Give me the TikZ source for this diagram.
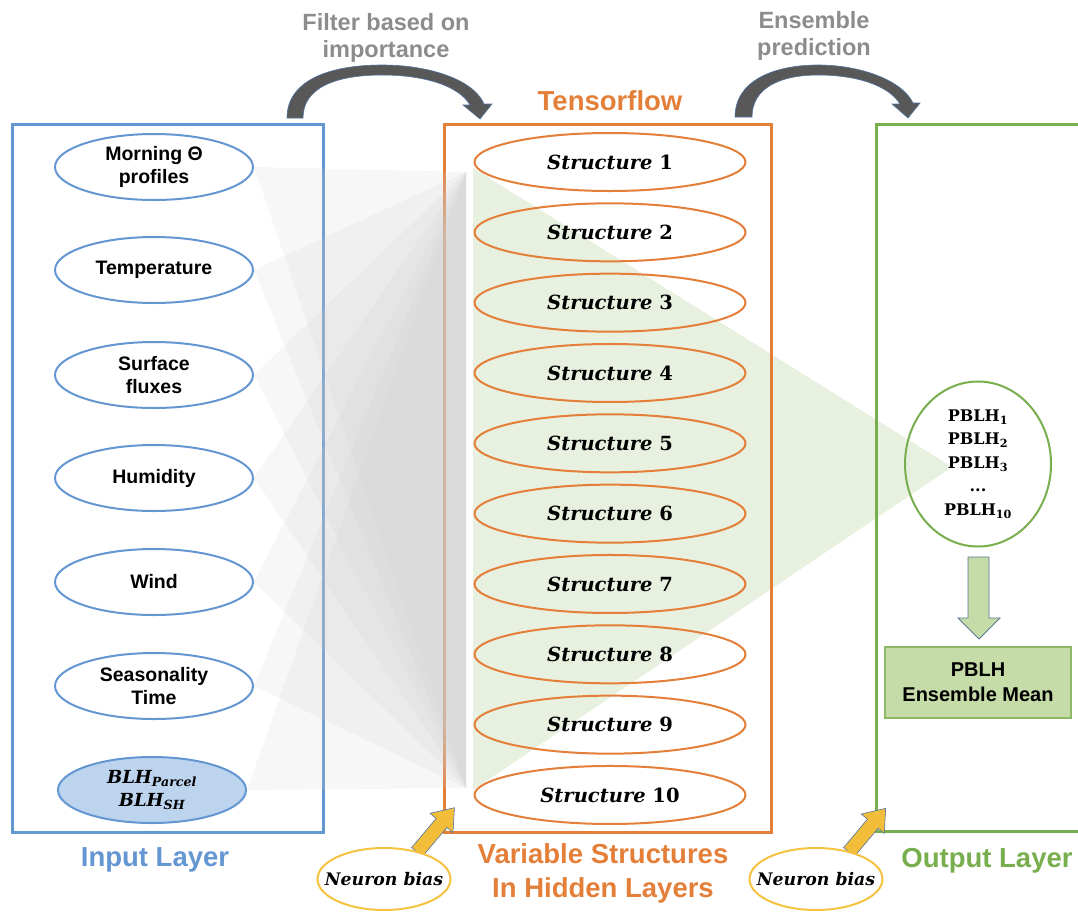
\documentclass[tikz,border=0pt]{standalone}
\usepackage{fontspec}
\setmainfont{Liberation Sans}
\newfontfamily\mser{DejaVu Serif}
\usetikzlibrary{shapes.geometric}
\definecolor{inblue}{RGB}{100,150,210}
\definecolor{blhfill}{RGB}{189,212,238}
\definecolor{orng}{RGB}{228,127,58}
\definecolor{grn}{RGB}{120,174,78}
\definecolor{grtri}{RGB}{232,240,224}
\definecolor{gtri}{RGB}{205,205,205}
\definecolor{meanfill}{RGB}{197,219,168}
\definecolor{meanedge}{RGB}{141,184,102}
\definecolor{yel}{RGB}{245,194,66}
\definecolor{yelfill}{RGB}{242,190,58}
\definecolor{arredge}{RGB}{80,115,160}
\definecolor{darr}{RGB}{88,88,88}
\definecolor{lblgray}{RGB}{140,140,140}
\pgfdeclarelayer{bg}
\pgfsetlayers{bg,main}
\tikzset{
  inell/.style={ellipse, draw=inblue, line width=2pt, fill=white, minimum width=198pt, minimum height=66pt, inner sep=0pt, align=center, font=\fontsize{19.5}{23}\selectfont\bfseries},
  stell/.style={ellipse, draw=orng, line width=2pt, minimum width=271pt, minimum height=58pt, inner sep=0pt, font=\fontsize{19.5}{24}\selectfont\mser\bfseries\itshape},
  nbell/.style={ellipse, draw=yel, line width=2pt, fill=white, minimum width=133pt, minimum height=62pt, inner xsep=-14pt, inner ysep=0pt, font=\fontsize{17.3}{20}\selectfont\mser\bfseries\itshape},
  layerlbl/.style={font=\fontsize{27.5}{34}\selectfont\bfseries, align=center, inner sep=0pt},
  toplbl/.style={font=\fontsize{23.5}{27}\selectfont\bfseries, text=lblgray, align=center, inner sep=0pt},
  graytri/.style={fill=gtri, fill opacity=0.17},
  curvarr/.style={fill=darr, draw=arredge, line width=0.6pt},
  yelarr/.style={fill=yelfill, draw=arredge, line width=0.6pt},
  boxframe/.style={rectangle, line width=3pt, inner sep=0pt}
}
\begin{document}
\begin{tikzpicture}[x=1pt,y=-1pt]
\useasboundingbox (0,0) rectangle (1078,911);
\clip (0,0) rectangle (1078,911);

% input ellipses
\node[inell] (in1) at (154,167) {Morning Θ\\profiles};
\node[inell] (in2) at (154,270) {Temperature};
\node[inell] (in3) at (154,375) {Surface\\fluxes};
\node[inell] (in4) at (154,478) {Humidity};
\node[inell] (in5) at (154,582) {Wind};
\node[inell] (in6) at (154,686) {Seasonality\\Time};
\node[inell, fill=blhfill, minimum width=188pt, font=\fontsize{18}{23}\selectfont\mser\bfseries\itshape] (in7) at (152,790) {BLH\textsubscript{Parcel}\\BLH\textsubscript{SH}};

% hidden structures
\foreach \i in {1,...,10}
  \node[stell] (s\i) at (610,{162+(\i-1)*70.33}) {Structure {\upshape\i}};

% output ellipse
\node[ellipse, draw=grn, line width=2pt, minimum width=146pt, minimum height=165pt, inner sep=0pt, align=center, font=\fontsize{16}{23.5}\selectfont\mser\bfseries] (pb) at (978,464)
  {PBLH\textsubscript{1}\\PBLH\textsubscript{2}\\PBLH\textsubscript{3}\\...\\PBLH\textsubscript{10}};

% ensemble mean box
\node[draw=meanedge, fill=meanfill, line width=1.5pt, minimum width=186pt, minimum height=71pt, inner sep=0pt, align=center, font=\fontsize{20}{25}\selectfont\bfseries] (mean) at (978,682.5) {PBLH\\Ensemble Mean};

% block arrow down
\fill[fill=meanfill, draw=arredge!80!gray, line width=0.8pt]
  (968,557) -- (989,557) -- (989,618) -- (1000,618) -- (979,639) -- (958,618) -- (968,618) -- cycle;

% labels
\node[layerlbl, text=inblue, anchor=base] (lin) at (155,866) {Input Layer};
\node[layerlbl, text=orng] (lhid) at (603,873) {Variable Structures\\In Hidden Layers};
\node[layerlbl, text=grn, anchor=base] (lout) at (987,867) {Output Layer};
\node[layerlbl, text=orng, anchor=base] (ltf) at (610,110) {Tensorflow};
\node[toplbl] (lfilt) at (386,38) {Filter based on\\importance};
\node[toplbl] (lens) at (814,36) {Ensemble\\prediction};

% curved arrows
\draw[curvarr] (287,118) .. controls (287,80) and (330,65) .. (382,65)
  .. controls (430,65) and (474,80) .. (484,104) -- (492,104) -- (480,119) -- (463,105) -- (470,105)
  .. controls (459,86) and (425,75) .. (382,75)
  .. controls (335,75) and (303,88) .. (303,118) -- cycle;
\draw[curvarr] (735,117) .. controls (735,80) and (775,65) .. (818,65)
  .. controls (860,65) and (902,80) .. (913,103) -- (920,103) -- (908,118) -- (892,104) -- (900,104)
  .. controls (889,86) and (858,75) .. (818,75)
  .. controls (780,75) and (752,88) .. (752,117) -- cycle;

% neuron bias
\begin{scope}[shift={(417,852)}, rotate=49.8]
  \draw[yelarr] (0,-7) -- (38,-7) -- (38,-15) -- (58,0) -- (38,15) -- (38,7) -- (0,7) -- cycle;
\end{scope}
\begin{scope}[shift={(849,852)}, rotate=50]
  \draw[yelarr] (0,-7) -- (37,-7) -- (37,-15) -- (57,0) -- (37,15) -- (37,7) -- (0,7) -- cycle;
\end{scope}
\node[nbell] (nb1) at (384,879) {Neuron bias};
\node[nbell] (nb2) at (816,879) {Neuron bias};

% background layer
\begin{pgfonlayer}{bg}
  \coordinate (gtop) at (466,172);
  \coordinate (gbot) at (466,788);
  \coordinate (ctop) at (473,168);
  \coordinate (cbot) at (473,790);
  \coordinate (capex) at (952,467);
  \fill[grtri] (ctop) -- (capex) -- (cbot) -- cycle;
  \node[boxframe, draw=inblue, minimum width=311pt, minimum height=708pt] (inbox) at (167.5,478) {};
  \node[boxframe, draw=orng, minimum width=327pt, minimum height=708pt] (hidbox) at (607.5,478) {};
  \node[boxframe, draw=grn, minimum width=220pt, minimum height=707pt] (outbox) at (986,477.5) {};
  \foreach \i in {1,...,7}
    \fill[graytri] (in\i.east) -- (gtop) -- (gbot) -- cycle;
\end{pgfonlayer}
\end{tikzpicture}
\end{document}
